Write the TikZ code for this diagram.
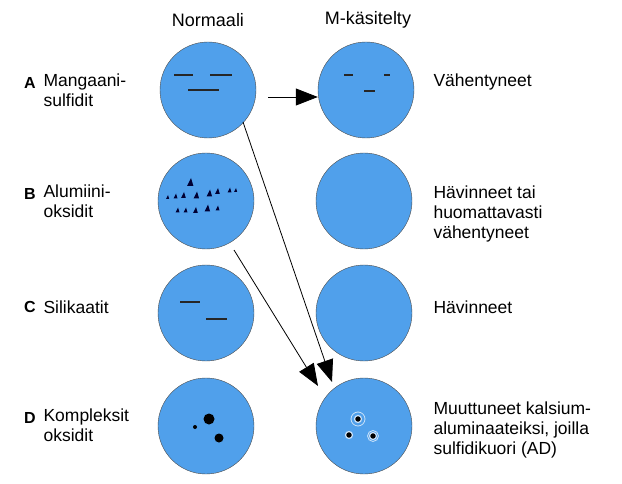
\documentclass[tikz,border=0pt]{standalone}
\usepackage{fontspec}
\setmainfont{Liberation Sans}
\usetikzlibrary{positioning, arrows.meta}
\definecolor{grainblue}{RGB}{80,160,235}
\tikzset{
  grain/.style={circle, draw=black!70, fill=grainblue, minimum size=96pt, inner sep=0pt},
  lbl/.style={font=\fontsize{17.5}{20}\selectfont, align=left, anchor=west},
  letter/.style={font=\fontsize{16}{18}\selectfont\bfseries},
  head/.style={font=\fontsize{18}{20}\selectfont},
  incl/.style={line width=1.4pt, black!85},
  arr/.style={-{Triangle[length=22pt,width=17pt]}, thick}
}
\begin{document}
\begin{tikzpicture}[x=1pt, y=-1pt]
\useasboundingbox (0,0) rectangle (622,484);
		\node[head] (hn) at (208,20) {Normaali};
		\node[head] (hm) at (368,20) {M-käsitelty};
		% grains
		\node[grain] (na) at (208,90) {};
		\node[grain] (ma) at (366,90) {};
		\node[grain] (nb) at (206,201) {};
		\node[grain] (mb) at (364,201) {};
		\node[grain] (nc) at (206,313) {};
		\node[grain] (mc) at (364,313) {};
		\node[grain] (nd) at (206,426) {};
		\node[grain] (md) at (364,426) {};
		% row letters and texts
		\node[letter] (la) at (30,83) {A};
		\node[lbl] (ta) at (40,90) {Mangaani-\\sulfidit};
		\node[letter] (lb) at (30,194) {B};
		\node[lbl] (tb) at (40,201) {Alumiini-\\oksidit};
		\node[letter] (lc) at (30,307) {C};
		\node[lbl] (tc) at (40,307) {Silikaatit};
		\node[letter] (ld) at (30,418) {D};
		\node[lbl] (td) at (40,425) {Kompleksit\\oksidit};
		\node[lbl] (ra) at (430,82) {Vähentyneet};
		\node[lbl] (rb) at (430,214) {Hävinneet tai\\huomattavasti\\vähentyneet};
		\node[lbl] (rc) at (430,307) {Hävinneet};
		\node[lbl] (rd) at (430,430) {Muuttuneet kalsium-\\aluminaateiksi, joilla\\sulfidikuori (AD)};
		% A inclusions
		\draw[incl] (174,75) -- (193,75) (210,75) -- (232,75) (188,90) -- (219,90);
		\draw[incl] (344,75) -- (353,75) (384,75) -- (390,75) (364,91) -- (375,91);
		% B triangles
		\foreach \x/\y/\s in {191/182/4, 168/197/2, 176/196/2.5, 184/195/3, 197/195/3.5, 210/193/3.5, 218/191/3, 230/190/2.5, 236/190/2,
		                      178/210/2.5, 186/210/2.5, 196/210/3, 208/208/3.5, 218/208/2.5}
		  \fill[black!80!blue] (\x-\s,\y+\s) -- (\x,\y-\s) -- (\x+\s*0.6,\y+\s) -- cycle;
		% C inclusions
		\draw[incl] (180,302) -- (200,302) (206,319) -- (227,319);
		% D inclusions
		\fill[black] (209,419) circle (5.5pt) (219,438) circle (4.5pt) (195,427) circle (2pt);
		\foreach \x/\y in {358/419, 349/435, 373/436}
		  \filldraw[fill=black, draw=white!70!grainblue, line width=1.2pt] (\x,\y) circle (3.5pt);
		\draw[white!70!grainblue, line width=0.8pt] (358,419) circle (7pt) (373,436) circle (5.5pt);
		% arrows
		\coordinate (aa) at (268,97);
		\coordinate (ab) at (243,122);
		\coordinate (ac) at (234,250);
		\draw[arr] (aa) -- (ma.west |- aa);
		\draw[arr] (ab) -- (332,382);
		\draw[arr] (ac) -- (318,386);
\end{tikzpicture}
\end{document}
